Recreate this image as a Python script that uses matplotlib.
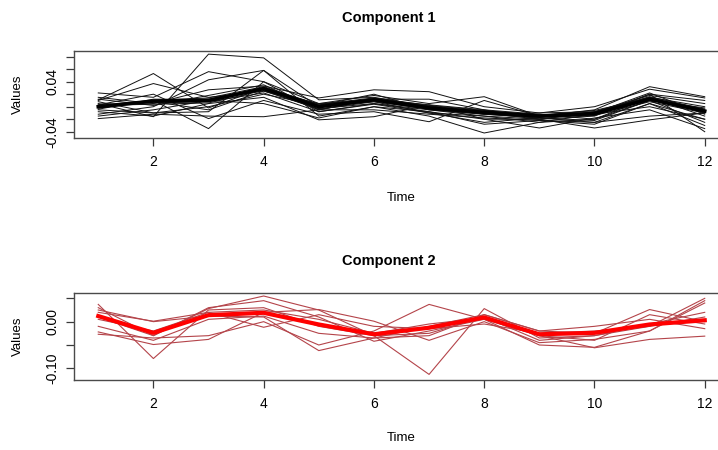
import matplotlib
matplotlib.use("Agg")
import matplotlib.pyplot as plt
import numpy as np

plt.rcParams['font.family'] = ['Liberation Sans', 'DejaVu Sans']

time = list(range(1, 13))

# Component 1: individual profiles
comp1_lines = [
    [0.005, -0.016, 0.084, 0.078, 0.011, 0.015, 0.000, -0.010, -0.020, -0.015, 0.020, 0.010],
    [0.011, 0.053, -0.002, 0.030, -0.005, 0.012, 0.003, -0.005, -0.020, -0.008, 0.015, -0.015],
    [-0.005, -0.010, -0.008, 0.058, 0.000, 0.008, -0.010, -0.025, -0.018, -0.025, 0.005, -0.020],
    [0.000, 0.010, -0.035, 0.040, -0.008, 0.005, -0.005, -0.015, -0.025, -0.020, 0.010, -0.025],
    [-0.019, -0.012, -0.015, -0.016, -0.005, -0.005, -0.012, -0.018, -0.022, -0.025, -0.015, -0.010],
    [0.010, 0.037, 0.015, 0.025, 0.005, 0.018, 0.005, 0.016, -0.015, -0.005, 0.032, 0.016],
    [0.022, 0.015, 0.056, 0.040, 0.005, 0.010, 0.000, -0.012, -0.010, -0.008, 0.018, 0.005],
    [-0.012, 0.000, 0.043, 0.058, -0.015, 0.000, -0.008, -0.028, -0.022, -0.028, 0.005, -0.030],
    [0.015, 0.005, 0.027, 0.033, 0.014, 0.027, 0.024, 0.000, -0.010, 0.000, 0.028, 0.014],
    [-0.008, -0.015, 0.005, 0.015, -0.021, -0.016, 0.003, -0.020, -0.034, -0.018, -0.005, -0.035],
    [0.003, 0.020, -0.019, 0.010, -0.012, -0.008, -0.024, 0.010, -0.015, -0.012, 0.000, -0.020],
    [0.008, -0.010, 0.000, 0.020, 0.002, 0.020, -0.005, -0.012, -0.018, -0.022, 0.010, -0.002],
    [-0.002, 0.008, -0.005, 0.025, -0.003, 0.005, -0.008, -0.020, -0.020, -0.010, 0.022, -0.012],
    [0.012, 0.002, 0.018, 0.035, -0.005, 0.012, 0.012, -0.005, -0.012, -0.020, 0.015, 0.000],
    [-0.015, -0.005, 0.010, 0.005, -0.018, 0.000, -0.015, -0.042, -0.025, -0.012, 0.020, -0.040],
    [0.004, 0.006, 0.008, 0.022, -0.008, 0.004, -0.010, -0.015, -0.020, -0.034, -0.021, -0.010],
    [-0.004, 0.012, 0.012, 0.030, 0.004, 0.014, 0.002, -0.006, -0.014, -0.006, 0.014, -0.004],
    [0.002, 0.004, 0.006, 0.026, -0.004, 0.008, -0.004, -0.012, -0.017, -0.014, 0.008, -0.010],
    [-0.002, 0.010, 0.014, 0.032, 0.003, 0.013, 0.001, -0.007, -0.013, -0.009, 0.016, -0.004],
]
# Component 1: core profile
comp1_core = [0.000, 0.009, 0.010, 0.029, 0.000, 0.011, -0.002, -0.009, -0.015, -0.011, 0.012, -0.007]

# Component 2: individual profiles
comp2_lines = [
    [0.037, -0.079, 0.025, 0.030, -0.010, -0.030, -0.025, 0.010, -0.040, -0.030, -0.005, 0.020],
    [0.030, -0.030, 0.028, 0.055, 0.025, -0.030, -0.113, 0.028, -0.035, -0.030, -0.010, 0.050],
    [-0.027, -0.035, -0.030, 0.000, -0.050, -0.020, 0.037, 0.005, -0.050, -0.055, -0.020, 0.045],
    [0.025, 0.000, 0.012, 0.010, -0.062, -0.035, -0.010, 0.015, -0.020, -0.025, 0.026, 0.000],
    [-0.022, -0.049, -0.038, 0.020, 0.026, 0.001, -0.040, 0.000, -0.045, -0.038, -0.020, 0.040],
    [0.010, -0.030, 0.030, 0.045, 0.010, -0.042, -0.020, 0.005, -0.030, -0.056, -0.038, -0.031],
    [0.020, 0.001, 0.020, -0.012, 0.015, -0.010, -0.015, -0.005, -0.025, -0.020, -0.010, 0.010],
    [-0.010, -0.040, 0.005, 0.012, -0.025, -0.035, -0.030, 0.015, -0.020, -0.010, 0.005, -0.015],
    [0.005, -0.020, 0.020, 0.025, 0.005, -0.025, -0.005, 0.008, -0.030, -0.040, 0.015, -0.005],
]
# Component 2: core profile
comp2_core = [0.012, -0.024, 0.014, 0.019, -0.006, -0.027, -0.013, 0.009, -0.027, -0.024, -0.006, 0.003]

# axis ticks and labels
comp1_ticks = [-0.04, -0.02, 0.00, 0.02, 0.04, 0.06, 0.08]
comp1_labels = ['-0.04', '', '', '', '0.04', '', '']
comp2_ticks = [-0.10, -0.05, 0.00, 0.05]
comp2_labels = ['-0.10', '', '0.00', '']
x_ticks = [2, 4, 6, 8, 10, 12]

W, H = 718, 450
fig = plt.figure(figsize=(W / 100, H / 100), dpi=100)
fig.patch.set_facecolor('white')


def px_axes(left, top, right, bottom):
    return fig.add_axes([left / W, 1 - bottom / H, (right - left) / W, (bottom - top) / H])


def style(ax, yticks, ylabels, ylim):
    ax.set_xlim(0.56, 12.44)
    ax.set_ylim(*ylim)
    ax.set_xticks(x_ticks)
    ax.set_xticklabels([str(t) for t in x_ticks])
    ax.set_yticks(yticks)
    ax.set_yticklabels(ylabels)
    for s in ax.spines.values():
        s.set_color('#4a4a4a')
        s.set_linewidth(1.0)
    ax.tick_params(axis='both', direction='out', length=5.5, width=0.9,
                   color='#3a3a3a', labelsize=10, pad=6.5)
    ax.tick_params(axis='y', pad=5)
    for lab in ax.get_yticklabels():
        lab.set_rotation(90)
        lab.set_va('center')
        lab.set_ha('right')


ax1 = px_axes(74, 51, 729, 138)
for series in comp1_lines:
    ax1.plot(time, series, color='#111111', lw=0.7)
ax1.plot(time, comp1_core, color='black', lw=2.6, solid_joinstyle='round')
style(ax1, comp1_ticks, comp1_labels, (-0.050, 0.089))

ax2 = px_axes(74, 292.5, 729, 380)
for series in comp2_lines:
    ax2.plot(time, series, color='#B4444A', lw=0.8)
ax2.plot(time, comp2_core, color='#FF0000', lw=3.0, solid_joinstyle='round')
style(ax2, comp2_ticks, comp2_labels, (-0.125, 0.0625))

# titles and axis titles
fig.text(389 / W, 1 - 18 / H, 'Component 1', ha='center', va='center',
         fontsize=10.5, fontweight='bold')
fig.text(389 / W, 1 - 261 / H, 'Component 2', ha='center', va='center',
         fontsize=10.5, fontweight='bold')
fig.text(401 / W, 1 - 198 / H, 'Time', ha='center', va='center', fontsize=9.5)
fig.text(401 / W, 1 - 438 / H, 'Time', ha='center', va='center', fontsize=9.5)
fig.text(18 / W, 1 - 94.5 / H, 'Values', ha='center', va='center',
         rotation=90, fontsize=9.5)
fig.text(18 / W, 1 - 336 / H, 'Values', ha='center', va='center',
         rotation=90, fontsize=9.5)

fig.savefig('out.png', dpi=100, facecolor='white')
